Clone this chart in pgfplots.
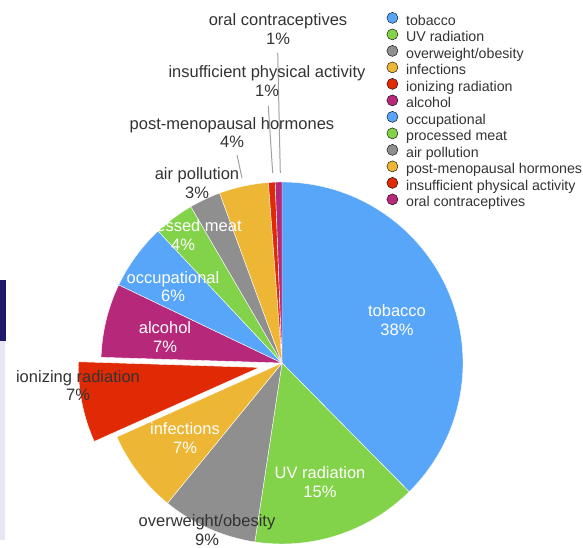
\documentclass[border=0pt]{standalone}
\usepackage{pgfplots}
\usepackage{pgfplotstable}
\pgfplotsset{compat=1.18}
\usepackage{fontspec}
\setmainfont{Liberation Sans}

\definecolor{cBlue}{RGB}{88,166,250}
\definecolor{cGreen}{RGB}{131,211,74}
\definecolor{cGray}{RGB}{143,143,143}
\definecolor{cYellow}{RGB}{237,182,52}
\definecolor{cRed}{RGB}{224,42,6}
\definecolor{cMagenta}{RGB}{182,40,122}
\definecolor{cText}{RGB}{51,51,51}
\definecolor{cLead}{RGB}{160,160,160}
\definecolor{cNavy}{RGB}{32,26,108}
\definecolor{cStrip}{RGB}{232,230,242}

% palette index -> colour name
\newcommand\slicecolour[1]{\ifcase#1 cBlue\or cGreen\or cGray\or cYellow\or cRed\or cMagenta\fi}

% share of each cause (%), clockwise from 12 o'clock
% pal = palette index, explode = offset in pt
\pgfplotstableread{
share pal explode
37.6  0   0
14.8  1   0
8.5   2   0
7.4   3   0
7.2   4   23
6.6   5   0
5.9   0   0
3.6   1   0
2.8   2   0
4.4   3   0
0.6   4   0
0.6   5   0
}\causes
\pgfplotstablecreatecol[expr accum={\pgfmathaccuma+\thisrow{share}}{0}]{cum}{\causes}

\begin{document}
\begin{tikzpicture}
\begin{axis}[
    name=ax, set layers,
    width=583pt, height=548pt, scale only axis,
    xmin=0, xmax=583, ymin=0, ymax=548,
    enlargelimits=false,
    hide axis, clip=false,
    legend image code/.code={\fill[#1] (0pt,3.8pt) circle (5.5pt);},
    legend cell align=left,
    legend style={
        at={(axis cs:386.5,536)}, anchor=north west,
        draw=none, fill=none, inner sep=0pt,
        font=\fontsize{14.2}{16}\selectfont, text=cText,
        row sep=0.5pt, column sep=8pt,
        nodes={inner sep=0pt, text height=10pt, text depth=3pt},
    },
]

% pie wedges: one scatter point per cause at the pie centre
\addplot[forget plot, scatter, only marks, mark=*, mark size=0pt, white,
    point meta=\thisrow{share},
    visualization depends on={\thisrow{share} \as \wval},
    visualization depends on={\thisrow{cum} \as \wcum},
    visualization depends on={\thisrow{explode} \as \wexp},
    visualization depends on={\thisrow{pal} \as \wpal},
    scatter/@pre marker code/.code={%
        \pgfmathsetmacro\aone{90-3.6*(\wcum-\wval)}%
        \pgfmathsetmacro\atwo{90-3.6*\wcum}%
        \pgfmathsetmacro\amid{(\aone+\atwo)/2}%
        \pgfmathsetmacro\dexp{\wexp}%
        \pgfmathtruncatemacro\ipal{\wpal}%
        \edef\wcol{\slicecolour{\ipal}}%
        \fill[fill=\wcol] (\amid:\dexp pt) -- ++(\aone:181pt)
            arc[start angle=\aone, end angle=\atwo, radius=181pt] -- cycle;
        \begingroup
    },
    scatter/@post marker code/.code={\endgroup},
] table[x expr=282, y expr=185] {\causes};

\addlegendimage{fill=cBlue}    \addlegendentry{tobacco}
\addlegendimage{fill=cGreen}   \addlegendentry{UV radiation}
\addlegendimage{fill=cGray}    \addlegendentry{overweight/obesity}
\addlegendimage{fill=cYellow}  \addlegendentry{infections}
\addlegendimage{fill=cRed}     \addlegendentry{ionizing radiation}
\addlegendimage{fill=cMagenta} \addlegendentry{alcohol}
\addlegendimage{fill=cBlue}    \addlegendentry{occupational}
\addlegendimage{fill=cGreen}   \addlegendentry{processed meat}
\addlegendimage{fill=cGray}    \addlegendentry{air pollution}
\addlegendimage{fill=cYellow}  \addlegendentry{post-menopausal hormones}
\addlegendimage{fill=cRed}     \addlegendentry{insufficient physical activity}
\addlegendimage{fill=cMagenta} \addlegendentry{oral contraceptives}

\begin{pgfonlayer}{axis foreground}
% leader lines for the small slices
\draw[cLead, line width=1pt] (axis cs:237,393) -- (axis cs:242,370);
\draw[cLead, line width=1pt] (axis cs:268.3,442) -- (axis cs:272.7,375);
\draw[cLead, line width=1pt] (axis cs:277.7,495) -- (axis cs:280.3,375);

% slice labels
\begin{scope}[every node/.style={align=center, inner sep=0pt,
    font=\fontsize{16.5}{18.5}\selectfont}]
\node[white] at (axis cs:397,228) {tobacco\\38\%};
\node[white] at (axis cs:320,66) {UV radiation\\15\%};
\node[cText] at (axis cs:207,18) {overweight/obesity\\9\%};
\node[white] at (axis cs:185,110) {infections\\7\%};
\node[cText] at (axis cs:78,162.5) {ionizing radiation\\7\%};
\node[white] at (axis cs:165,211) {alcohol\\7\%};
\node[white] at (axis cs:173,261.5) {occupational\\6\%};
\node[white] at (axis cs:183,313) {processed meat\\4\%};
\node[cText] at (axis cs:197,365) {air pollution\\3\%};
\node[cText] at (axis cs:232,415.5) {post-menopausal hormones\\4\%};
\node[cText] at (axis cs:267,467) {insufficient physical activity\\1\%};
\node[cText] at (axis cs:278,519) {oral contraceptives\\1\%};
\end{scope}

% edge of the slide behind the chart
\fill[cNavy] (axis cs:0,268) rectangle (axis cs:6,207);
\fill[cStrip] (axis cs:0,207) rectangle (axis cs:5,8);
\end{pgfonlayer}
\end{axis}
\pgfresetboundingbox
\useasboundingbox (ax.south west) rectangle (ax.north east);
\end{tikzpicture}
\end{document}
